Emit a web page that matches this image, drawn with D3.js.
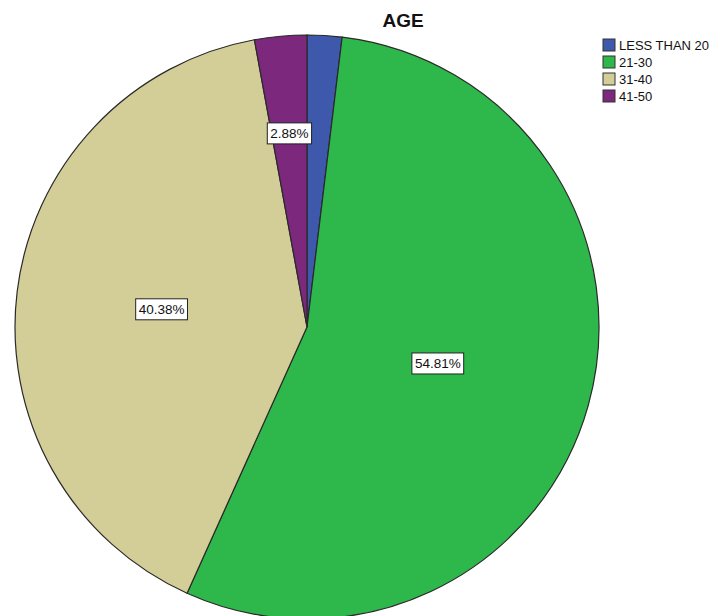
<!DOCTYPE html>
<html>
<head>
<meta charset="utf-8">
<script src="https://cdn.jsdelivr.net/npm/d3@7"></script>
<style>
  body { margin: 0; background: #fff; }
  text { font-family: Arial, "Liberation Sans", sans-serif; }
</style>
</head>
<body>
<div id="chart"></div>
<script>
// Data (counts read as percentages of 104 respondents)
var categories = ["LESS THAN 20", "21-30", "31-40", "41-50"];
var percents = [1.92, 54.81, 40.38, 2.88];
var colors = ["#3e58ac", "#2eb84b", "#d3ce97", "#7c287d"];

var width = 727, height = 616;
var cx = 307, cy = 327, radius = 292;

var svg = d3.select("#chart").append("svg")
    .attr("width", width)
    .attr("height", height);

// Title
svg.append("text")
    .attr("x", 403)
    .attr("y", 27)
    .attr("text-anchor", "middle")
    .style("font-size", "19px")
    .style("font-weight", "bold")
    .attr("fill", "#111")
    .text("AGE");

var pie = d3.pie().sort(null).value(function (d) { return d; });
var arc = d3.arc().innerRadius(0).outerRadius(radius);
var arcs = pie(percents);

var g = svg.append("g")
    .attr("transform", "translate(" + cx + "," + cy + ")");

g.selectAll("path")
    .data(arcs)
    .enter().append("path")
    .attr("d", arc)
    .attr("fill", function (d, i) { return colors[i]; })
    .attr("stroke", "#2a2a2a")
    .attr("stroke-width", 1.2);

// Label position: sector centroid, kept away from the middle for wide slices
function labelPos(d) {
    var half = (d.endAngle - d.startAngle) / 2;
    var mid = d.startAngle + half;
    var r = 2 * radius * Math.sin(half) / (3 * half);
    r = Math.max(r, 0.465 * radius);
    return [Math.sin(mid) * r, -Math.cos(mid) * r];
}

var labels = g.selectAll(".lbl")
    .data(arcs.filter(function (d) { return d.value > 2.5; }))
    .enter().append("g")
    .attr("class", "lbl")
    .attr("transform", function (d) {
        var p = labelPos(d);
        return "translate(" + p[0] + "," + p[1] + ")";
    });

labels.append("text")
    .attr("text-anchor", "middle")
    .attr("dy", "0.36em")
    .style("font-size", "13.5px")
    .attr("fill", "#111")
    .text(function (d) { return d3.format(".2f")(d.value) + "%"; })
    .each(function () {
        var bb = this.getBBox();
        d3.select(this.parentNode).insert("rect", "text")
            .attr("x", bb.x - 3)
            .attr("y", -10.5)
            .attr("width", bb.width + 6)
            .attr("height", 21)
            .attr("fill", "#fff")
            .attr("stroke", "#222")
            .attr("stroke-width", 1);
    });

// Legend
var legend = svg.append("g")
    .attr("transform", "translate(603,39)");

var items = legend.selectAll("g")
    .data(categories)
    .enter().append("g")
    .attr("transform", function (d, i) { return "translate(0," + (i * 17) + ")"; });

items.append("rect")
    .attr("width", 12)
    .attr("height", 12)
    .attr("fill", function (d, i) { return colors[i]; })
    .attr("stroke", "#333")
    .attr("stroke-width", 1);

items.append("text")
    .attr("x", 16)
    .attr("y", 6)
    .attr("dy", "0.36em")
    .style("font-size", "13px")
    .attr("fill", "#111")
    .text(function (d) { return d; });
</script>
</body>
</html>
